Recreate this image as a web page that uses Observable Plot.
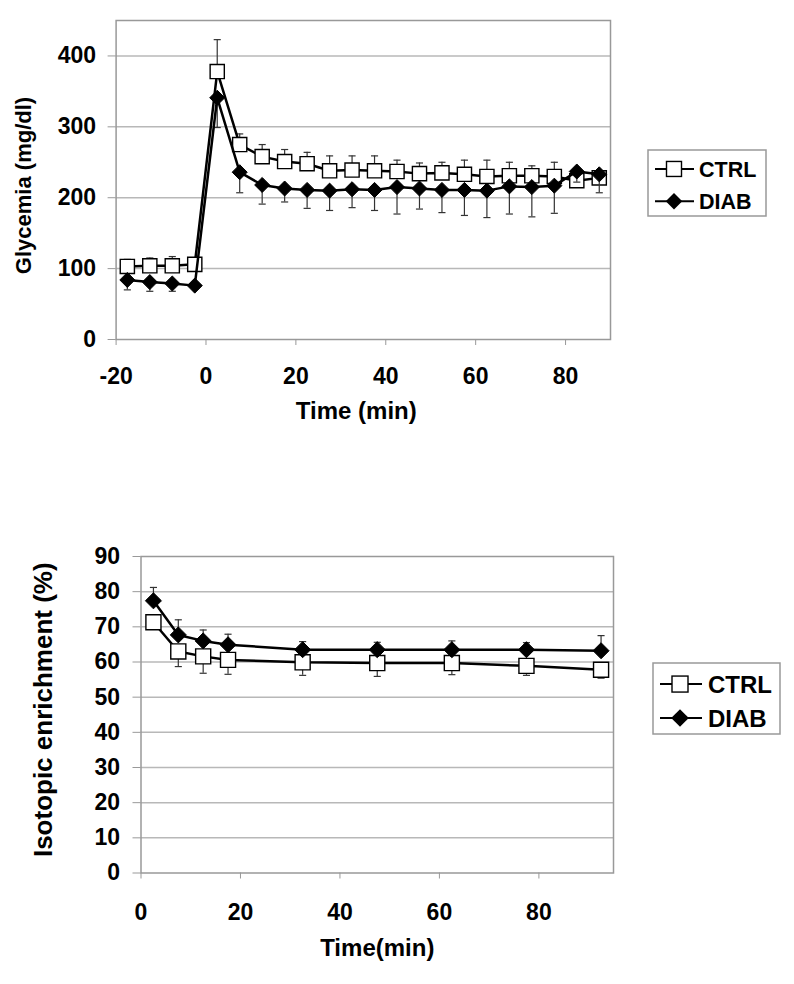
<!DOCTYPE html>
<html><head><meta charset="utf-8">
<script src="https://cdn.jsdelivr.net/npm/d3@7"></script>
<script src="https://cdn.jsdelivr.net/npm/@observablehq/plot@0.6"></script>
<style>
body{margin:0;background:#fff;}
#wrap{position:relative;width:794px;height:984px;font-family:"Liberation Sans",Arial,sans-serif;overflow:hidden;}
.pane{position:absolute;left:0;}
.leg{position:absolute;}
</style></head><body><div id="wrap"></div>
<script>
// ---------- Data: top chart (glycemia) ----------
const glyTime = [-17.5,-12.5,-7.5,-2.5,2.5,7.5,12.5,17.5,22.5,27.5,32.5,37.5,42.5,47.5,52.5,57.5,62.5,67.5,72.5,77.5,82.5,87.5];
const glyCtrl    = [103,104,104,106,378,275,258,251,248,238,239,238,237,234,235,233,230,231,231,230,224,228];
const glyCtrlErr = [10,11,13,5,45,15,17,17,16,21,20,21,16,15,15,20,23,19,14,20,12,10];
const glyDiab    = [84,81,79,76,341,236,218,213,211,210,212,211,215,213,211,211,210,216,215,217,237,233];
const glyDiabErr = [14,13,11,4,42,29,27,19,26,28,26,29,38,29,32,36,38,39,42,39,15,26];
const glyXTicks = [-20,0,20,40,60,80];
const glyYTicks = [0,100,200,300,400];

// ---------- Data: bottom chart (isotopic enrichment) ----------
const isoTime = [2.5,7.5,12.5,17.5,32.5,47.5,62.5,77.5,92.5];
const isoCtrl    = [71.3,63,61.6,60.6,59.9,59.7,59.7,58.9,57.8];
const isoCtrlErr = [2,4.3,4.8,4.1,3.7,3.8,3.3,2.7,2.4];
const isoDiab    = [77.4,67.7,66,64.9,63.5,63.5,63.5,63.5,63.2];
const isoDiabErr = [3.8,4.3,3.1,3,2.3,2.1,2.5,2,4.3];
const isoXTicks = [0,20,40,60,80];
const isoYTicks = [0,10,20,30,40,50,60,70,80,90];

const seriesNames = ["CTRL","DIAB"];

const FONT = "Liberation Sans, Arial, sans-serif";
const diamond = {draw(ctx, size){const h=Math.sqrt(size/2); ctx.moveTo(0,-h); ctx.lineTo(h,0); ctx.lineTo(0,h); ctx.lineTo(-h,0); ctx.closePath();}};
const cap = {draw(ctx, size){const w=Math.sqrt(size)/2; ctx.moveTo(-w,0); ctx.lineTo(w,0);}};

function rows(t, v, e){ return t.map((x,i)=>({t:x, v:v[i], e:e[i]})); }

function seriesMarks(ctrl, diab, o){
  return [
    Plot.ruleX(ctrl, {x:"t", y1:"v", y2:d=>d.v+d.e, stroke:"#333", strokeWidth:1.2}),
    Plot.dot(ctrl, {x:"t", y:d=>d.v+d.e, symbol:cap, r:4, fill:"none", stroke:"#333", strokeWidth:1.2}),
    Plot.line(ctrl, {x:"t", y:"v", stroke:"black", strokeWidth:2.5}),
    Plot.dot(ctrl, {x:"t", y:"v", symbol:"square", r:o.sq, fill:"white", stroke:"black", strokeWidth:1.4}),
    Plot.ruleX(diab, {x:"t", y1:"v", y2:d=>d.v+o.diabDir*d.e, stroke:"#333", strokeWidth:1.2}),
    Plot.dot(diab, {x:"t", y:d=>d.v+o.diabDir*d.e, symbol:cap, r:4, fill:"none", stroke:"#333", strokeWidth:1.2}),
    Plot.line(diab, {x:"t", y:"v", stroke:"black", strokeWidth:2.5}),
    Plot.dot(diab, {x:"t", y:"v", symbol:diamond, r:o.dm, fill:"black", stroke:"black", strokeWidth:1})
  ];
}

const wrap = document.getElementById("wrap");

// ---------- Top chart ----------
const glyC = rows(glyTime, glyCtrl, glyCtrlErr);
const glyD = rows(glyTime, glyDiab, glyDiabErr);
const p1 = Plot.plot({
  width:794, height:440,
  marginLeft:115.6, marginRight:184, marginTop:20, marginBottom:101,
  style:{fontFamily:FONT, background:"white", color:"black", overflow:"visible"},
  x:{domain:[-20,90]},
  y:{domain:[0,450]},
  marks:[
    Plot.ruleY(glyYTicks.filter(d=>d>0), {stroke:"#b8b8b8", strokeWidth:1.5}),
    Plot.frame({stroke:"#999", strokeWidth:1.5}),
    Plot.axisX({ticks:glyXTicks, tickSize:6, tickPadding:22, stroke:"#999", fill:"black", fontSize:23, fontWeight:"bold", label:null, tickFormat:d=>String(d)}),
    Plot.axisY({ticks:glyYTicks, tickSize:8, tickPadding:12, stroke:"#999", fill:"black", fontSize:23, fontWeight:"bold", label:null, tickFormat:d=>String(d)}),
    Plot.text(["Glycemia (mg/dl)"], {text:d=>d, frameAnchor:"left", textAnchor:"middle", lineAnchor:"middle", dx:-92.6, dy:5.5, rotate:-90, fontSize:22, fontWeight:"bold", fill:"black"}),
    Plot.text(["Time (min)"], {text:d=>d, frameAnchor:"bottom", textAnchor:"middle", lineAnchor:"middle", dx:-7, dy:72, fontSize:24, fontWeight:"bold", fill:"black"}),
    ...seriesMarks(glyC, glyD, {sq:8, dm:6, diabDir:-1})
  ]
});
const d1 = document.createElement("div"); d1.className="pane"; d1.style.top="0px"; d1.appendChild(p1); wrap.appendChild(d1);

// ---------- Bottom chart ----------
const isoC = rows(isoTime, isoCtrl, isoCtrlErr).map(d=>({...d, e:-d.e}));
const isoD = rows(isoTime, isoDiab, isoDiabErr);
const p2 = Plot.plot({
  width:794, height:544,
  marginLeft:140.5, marginRight:181, marginTop:116, marginBottom:111.5,
  style:{fontFamily:FONT, background:"white", color:"black", overflow:"visible"},
  x:{domain:[0,95]},
  y:{domain:[0,90]},
  marks:[
    Plot.ruleY(isoYTicks.filter(d=>d>0 && d<90), {stroke:"#b8b8b8", strokeWidth:1.5}),
    Plot.frame({stroke:"#999", strokeWidth:1.5}),
    Plot.axisX({ticks:isoXTicks, tickSize:6, tickPadding:25, stroke:"#999", fill:"black", fontSize:23, fontWeight:"bold", label:null, tickFormat:d=>String(d)}),
    Plot.axisY({ticks:isoYTicks, tickSize:8, tickPadding:13, stroke:"#999", fill:"black", fontSize:23, fontWeight:"bold", label:null, tickFormat:d=>String(d)}),
    Plot.text(["Isotopic enrichment (%)"], {text:d=>d, frameAnchor:"left", textAnchor:"middle", lineAnchor:"middle", dx:-97.5, dy:-5, rotate:-90, fontSize:26, fontWeight:"bold", fill:"black"}),
    Plot.text(["Time(min)"], {text:d=>d, frameAnchor:"bottom", textAnchor:"middle", lineAnchor:"middle", dx:0, dy:75.5, fontSize:24, fontWeight:"bold", fill:"black"}),
    ...seriesMarks(isoC, isoD, {sq:8.5, dm:6.4, diabDir:1})
  ]
});
const d2 = document.createElement("div"); d2.className="pane"; d2.style.top="440px"; d2.appendChild(p2); wrap.appendChild(d2);

// ---------- Legends ----------
function legend(left, top, w, h, fontSize, lineX1, lineX2, symX, textX, base1, base2, sq){
  const ns = "http://www.w3.org/2000/svg";
  const svg = document.createElementNS(ns, "svg");
  svg.setAttribute("width", w+4); svg.setAttribute("height", h+4);
  svg.setAttribute("class","leg");
  svg.style.left = (left-2)+"px"; svg.style.top = (top-2)+"px";
  const g = d3.select(svg).append("g").attr("transform","translate(2,2)");
  g.append("rect").attr("width",w).attr("height",h).attr("fill","white").attr("stroke","#999").attr("stroke-width",1.5);
  const bases = [base1, base2];
  seriesNames.forEach((name,i)=>{
    const cy = bases[i] - fontSize*0.36;
    g.append("line").attr("x1",lineX1).attr("x2",lineX2).attr("y1",cy).attr("y2",cy).attr("stroke","black").attr("stroke-width",2);
    if(i===0){
      g.append("rect").attr("x",symX-sq/2).attr("y",cy-sq/2).attr("width",sq).attr("height",sq).attr("fill","white").attr("stroke","black").attr("stroke-width",1.4);
    } else {
      const hh = sq*0.55;
      g.append("path").attr("d",`M${symX},${cy-hh}L${symX+hh},${cy}L${symX},${cy+hh}L${symX-hh},${cy}Z`).attr("fill","black");
    }
    g.append("text").attr("x",textX).attr("y",bases[i]).attr("font-family",FONT).attr("font-weight","bold").attr("font-size",fontSize).attr("fill","black").text(name);
  });
  wrap.appendChild(svg);
}
legend(648, 150, 118, 66, 21.5, 7, 46, 26, 51, 26.7, 59, 15);
legend(653, 663, 127, 71, 24, 7, 49, 27, 55, 29.7, 63.7, 16);
</script></body></html>
